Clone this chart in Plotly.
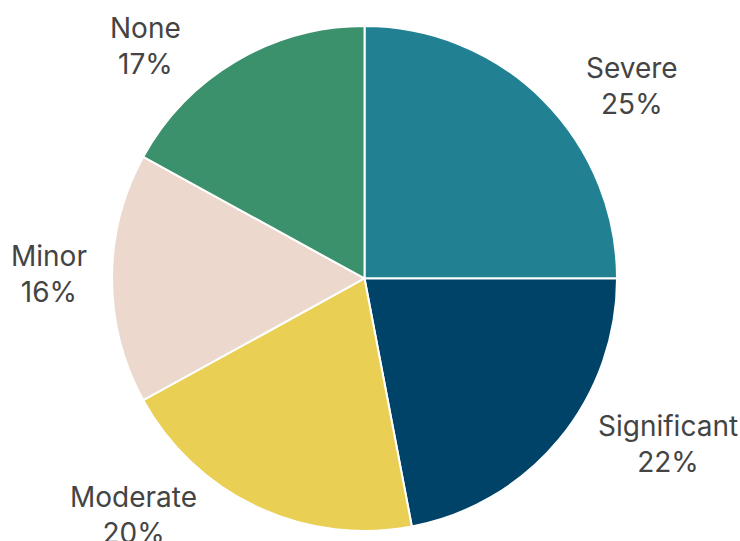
import math
import plotly.graph_objects as go

# Impact severity breakdown
categories = ["Severe", "Significant", "Moderate", "Minor", "None"]
shares = [25, 22, 20, 16, 17]
colors = ["#218193", "#004369", "#e9cf54", "#ecd8cd", "#3a916c"]

W, H = 740, 541
dom_x = [0.1514, 0.8338]
dom_y = [0.0185, 0.952]

fig = go.Figure(
    go.Pie(
        labels=categories,
        values=shares,
        sort=False,
        direction="clockwise",
        rotation=0,
        marker=dict(colors=colors, line=dict(color="white", width=2)),
        textinfo="none",
        showlegend=False,
        domain=dict(x=dom_x, y=dom_y),
    )
)

# Outside labels: each sits beside its slice's mid-angle, pushed out
# horizontally from the pie centre and anchored on its inner edge.
cx = (dom_x[0] + dom_x[1]) / 2
cy = (dom_y[0] + dom_y[1]) / 2
radius_px = min((dom_x[1] - dom_x[0]) * W, (dom_y[1] - dom_y[0]) * H) / 2
total = sum(shares)
start = 0.0
for name, val in zip(categories, shares):
    mid = (start + val / 2) / total * 2 * math.pi
    start += val
    ux, uy = math.sin(mid), math.cos(mid)
    dx = 0.76 * radius_px * abs(ux) + 0.333 * radius_px
    dy = 1.053 * radius_px * uy + 4
    right = ux > 0
    fig.add_annotation(
        xref="paper", yref="paper",
        x=cx + (dx if right else -dx) / W,
        y=cy + dy / H,
        xanchor="left" if right else "right",
        yanchor="middle",
        align="center",
        showarrow=False,
        text=f"{name}<br>{round(val / total * 100)}%",
        font=dict(family="Inter", size=28, color="#444444"),
    )

fig.update_layout(
    width=W,
    height=H,
    margin=dict(l=0, r=0, t=0, b=0, autoexpand=False),
    paper_bgcolor="white",
    plot_bgcolor="white",
    font=dict(family="Inter"),
)

fig.write_html("out.html")
